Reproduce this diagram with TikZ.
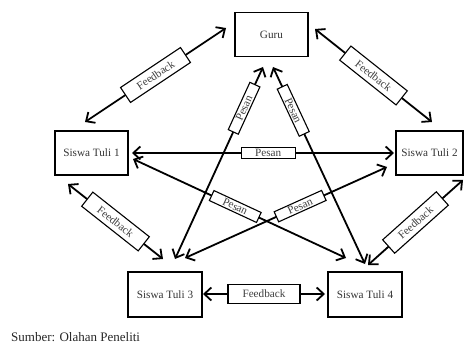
\documentclass[tikz,border=0pt]{standalone}
\usepackage{fontspec}
\setmainfont{Liberation Serif}
\usetikzlibrary{arrows.meta}
\begin{document}
\begin{tikzpicture}[x=1pt,y=-1pt,
  actor/.style={draw,line width=1.3pt,minimum width=73pt,minimum height=44pt,inner sep=0pt,font=\fontsize{11.2}{12}\selectfont,text=black!80},
  fbbox/.style={draw,line width=1.1pt,fill=white,minimum width=72pt,minimum height=18pt,inner sep=0pt,font=\fontsize{11.2}{12}\selectfont,text=black!75,sloped},
  pbox/.style={draw,line width=1.1pt,fill=white,minimum width=52pt,minimum height=11pt,inner sep=0pt,font=\fontsize{11.2}{11}\selectfont,text=black!75,sloped},
  link/.style={line width=1.8pt,{Straight Barb[length=7pt,width=13pt,line width=1.8pt]}-{Straight Barb[length=7pt,width=13pt,line width=1.8pt]}}
]
\useasboundingbox (0,0) rectangle (464,345);
\node[actor] (guru) at (271.5,34.5) {Guru};
\node[actor] (st1) at (91.5,153) {Siswa Tuli 1};
\node[actor,minimum width=67pt] (st2) at (429.5,153) {Siswa Tuli 2};
\node[actor,minimum width=74pt,minimum height=45pt] (st3) at (165,294.5) {Siswa Tuli 3};
\node[actor,minimum width=74pt,minimum height=45pt] (st4) at (365,294.5) {Siswa Tuli 4};
\node[anchor=west,inner sep=0pt,font=\fontsize{13}{14}\selectfont,text=black!85] (src) at (11,337) {Sumber: Olahan Peneliti};

% endpoints
\coordinate (g1) at (226,28);
\coordinate (a1) at (85,122);
\coordinate (g2) at (315,29);
\coordinate (b1) at (432,122);
\coordinate (a2) at (68,184);
\coordinate (c1) at (163,259);
\coordinate (b2) at (463,180);
\coordinate (d1) at (368,265);
\coordinate (c2) at (203,294);
\coordinate (d2) at (325,294);
\coordinate (a3) at (132,153);
\coordinate (b3) at (394,153);
\coordinate (g3) at (263,67);
\coordinate (c3) at (175,259);
\coordinate (g4) at (273,67);
\coordinate (d3) at (365,264);
\coordinate (a4) at (133,159);
\coordinate (d4) at (346,258);
\coordinate (b4) at (387,167);
\coordinate (c4) at (185,258);

\draw[link] (a1) -- node[fbbox] (f1) {Feedback} (g1);
\draw[link] (g2) -- node[fbbox] (f2) {Feedback} (b1);
\draw[link] (a2) -- node[fbbox] (f3) {Feedback} (c1);
\draw[link] (d1) -- node[fbbox] (f4) {Feedback} (b2);
\draw[link] (c2) -- node[fbbox,minimum height=19pt] (f5) {Feedback} (d2);
\draw[link] (a3) -- node[pbox,pos=0.52,minimum width=54pt] (p1) {Pesan} (b3);
\draw[link] (c3) -- node[pbox,pos=0.785] (p2) {Pesan} (g3);
\draw[link] (g4) -- node[pbox,pos=0.22] (p3) {Pesan} (d3);
\draw[link] (a4) -- node[pbox,pos=0.48] (p4) {Pesan} (d4);
\draw[link] (c4) -- node[pbox,pos=0.57] (p5) {Pesan} (b4);
\end{tikzpicture}
\end{document}
